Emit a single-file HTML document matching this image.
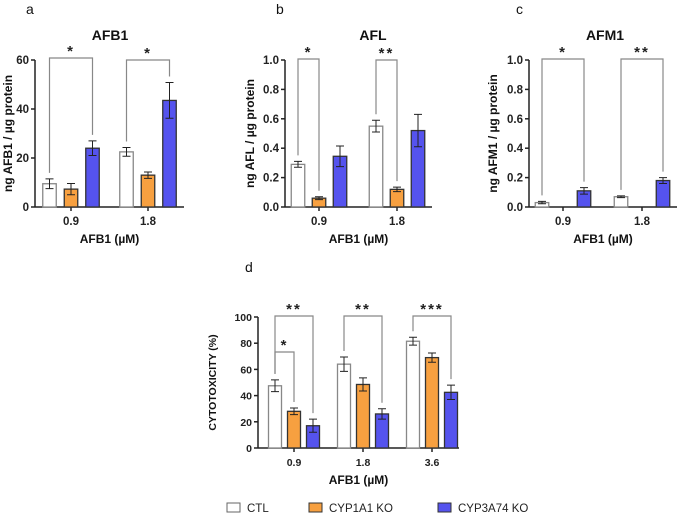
<!DOCTYPE html>
<html><head><meta charset="utf-8"><style>
body{margin:0;background:#fff}
svg{display:block;font-family:"Liberation Sans",Arial,sans-serif}
</style></head><body>
<svg id="fig" width="677" height="527" viewBox="0 0 677 527"></svg>
<script>
const NS="http://www.w3.org/2000/svg";
const svg=document.getElementById('fig');
const COL={ctl:'#ffffff',o:'#f7a040',b:'#5553ee'};
// Panel a data
const aCats=['0.9','1.8'];
const aCtl=[9.5,22.5], aCtlErr=[2,1.8];
const aOr=[7.3,13], aOrErr=[2.3,1.3];
const aBl=[24,43.5], aBlErr=[3,7.3];
const aTicks=[0,20,40,60];
// Panel b data
const bCats=['0.9','1.8'];
const bCtl=[0.29,0.55], bCtlErr=[0.02,0.04];
const bOr=[0.06,0.12], bOrErr=[0.01,0.015];
const bBl=[0.345,0.52], bBlErr=[0.07,0.11];
const bTicks=[0,0.2,0.4,0.6,0.8,1.0];
// Panel c data
const cCats=['0.9','1.8'];
const cCtl=[0.03,0.07], cCtlErr=[0.008,0.006];
const cBl=[0.11,0.18], cBlErr=[0.022,0.02];
const cTicks=[0,0.2,0.4,0.6,0.8,1.0];
// Panel d data
const dCats=['0.9','1.8','3.6'];
const dCtl=[47.5,64,81.5], dCtlErr=[4.5,5.5,3];
const dOr=[28,48.5,69], dOrErr=[2.5,5,3.5];
const dBl=[17,26,42.5], dBlErr=[5,4,5.5];
const dTicks=[0,20,40,60,80,100];

function el(tag,attrs,parent,text){const e=document.createElementNS(NS,tag);for(const k in attrs)e.setAttribute(k,attrs[k]);if(text!==undefined)e.textContent=text;(parent||svg).appendChild(e);return e;}

function panel(o){
  const g=el('g',{});
  
  
  const y=v=>o.y0-(v/o.max)*(o.y0-o.y1);
  const tfs=o.tfs||11.5;
  const ya=el('line',{x1:o.ax,y1:o.y1,x2:o.ax,y2:o.y0,stroke:'#222','stroke-width':1.5},g);
  
  const xa=el('line',{x1:o.ax,y1:o.y0,x2:o.axEnd,y2:o.y0,stroke:'#222','stroke-width':1.5},g);
  
  o.ticks.forEach(t=>{
    el('line',{x1:o.ax-4,y1:y(t),x2:o.ax,y2:y(t),stroke:'#222','stroke-width':1.5},g);
    const tl=el('text',{x:o.ax-6,y:y(t)+4,'text-anchor':'end','font-size':tfs,'font-weight':'bold',fill:'#222'},g,o.fmt(t));
    
  });
  o.cats.forEach((c,i)=>{
    const cx=o.cx0+i*o.step;
    el('line',{x1:cx,y1:o.y0,x2:cx,y2:o.y0+4,stroke:'#222','stroke-width':1.5},g);
    const tl=el('text',{x:cx,y:o.y0+18,'text-anchor':'middle','font-size':tfs,'font-weight':'bold',fill:'#222'},g,c);
    
    o.series.forEach((s,k)=>{
      if(!s)return;
      const bx=cx+(k-1)*o.gap-o.bw/2;
      const v=s.v[i],e=s.e[i];
      const r=el('rect',{x:bx,y:y(v),width:o.bw,height:o.y0-y(v),fill:s.c,stroke:s.c==='#ffffff'?'#888':'#333','stroke-width':1.3},g);
      
      const mx=bx+o.bw/2;
      el('path',{d:`M${mx},${y(v+e)}V${y(v-e)}M${mx-4},${y(v+e)}H${mx+4}M${mx-4},${y(v-e)}H${mx+4}`,stroke:'#222','stroke-width':1,fill:'none'},g);
    });
  });
  o.brackets.forEach(b=>{
    const cx=o.cx0+b.g*o.step;
    const x1=cx+(b.a-1)*o.gap, x2=cx+(b.b-1)*o.gap;
    const sa=o.series[b.a], sb=o.series[b.b];
    const ya1=y(sa.v[b.g]+sa.e[b.g])-6, yb1=y(sb.v[b.g]+sb.e[b.g])-6;
    const p=el('path',{d:`M${x1},${ya1}V${b.top}H${x2}V${yb1}`,stroke:'#888','stroke-width':1.2,fill:'none'},g);
    
    const st=el('text',{x:(x1+x2)/2,y:b.top-2,'text-anchor':'middle','font-size':15,'font-weight':'bold',fill:'#222','letter-spacing':2},g,b.s);
    
  });
  if(o.title){
  const t=el('text',{x:o.tx,y:o.ty,'text-anchor':'middle','font-size':14,'font-weight':'bold',fill:'#111'},g,o.title);
  }
  const xt=el('text',{x:(o.ax+o.axEnd)/2,y:o.y0+36,'text-anchor':'middle','font-size':12,'font-weight':'bold',fill:'#111'},g,'AFB1 (µM)');
  
  const ym=(o.y0+o.y1)/2;
  const yt=el('text',{x:o.ylx,y:ym,'text-anchor':'middle','font-size':o.ylfs||12,'font-weight':'bold',fill:'#111',transform:`rotate(-90 ${o.ylx} ${ym})`},g,o.ylabel);
  
  const lt=el('text',{x:o.lx,y:o.ly,'font-size':14,fill:'#111'},g,o.letter);
  
}
const f1=t=>String(t), f2=t=>t.toFixed(1);
panel({name:'panel-a',letter:'a',lx:26,ly:14,title:'AFB1',tx:110,ty:40,ylabel:'ng AFB1 / µg protein',ylx:12,
  ax:35,axEnd:184,y0:207,y1:60,max:60,ticks:aTicks,fmt:f1,cats:aCats,cx0:71,step:77,gap:21.5,bw:13.5,
  series:[{n:'ctl',c:COL.ctl,v:aCtl,e:aCtlErr},{n:'cyp1a1',c:COL.o,v:aOr,e:aOrErr},{n:'cyp3a74',c:COL.b,v:aBl,e:aBlErr}],
  brackets:[{g:0,a:0,b:2,top:58,s:'*'},{g:1,a:0,b:2,top:60,s:'*'}]});
panel({name:'panel-b',letter:'b',lx:276,ly:14,title:'AFL',tx:373,ty:40,ylabel:'ng AFL / µg protein',ylx:254,
  ax:285,axEnd:432,y0:207,y1:60,max:1,ticks:bTicks,fmt:f2,cats:bCats,cx0:319,step:78,gap:21,bw:13.5,
  series:[{n:'ctl',c:COL.ctl,v:bCtl,e:bCtlErr},{n:'cyp1a1',c:COL.o,v:bOr,e:bOrErr},{n:'cyp3a74',c:COL.b,v:bBl,e:bBlErr}],
  brackets:[{g:0,a:0,b:1,top:59,s:'*'},{g:1,a:0,b:1,top:60,s:'**'}]});
panel({name:'panel-c',letter:'c',lx:516,ly:14,title:'AFM1',tx:605,ty:40,ylabel:'ng AFM1 / µg protein',ylx:497,
  ax:529,axEnd:677,y0:207,y1:60,max:1,ticks:cTicks,fmt:f2,cats:cCats,cx0:563,step:79,gap:21,bw:13.5,
  series:[{n:'ctl',c:COL.ctl,v:cCtl,e:cCtlErr},null,{n:'cyp3a74',c:COL.b,v:cBl,e:cBlErr}],
  brackets:[{g:0,a:0,b:2,top:59,s:'*'},{g:1,a:0,b:2,top:59,s:'**'}]});
panel({name:'panel-d',letter:'d',lx:245,ly:272,title:'',tx:0,ty:0,ylabel:'CYTOTOXICITY (%)',ylx:216,ylfs:10.5,tfs:10.5,
  ax:258,axEnd:459,y0:448,y1:317,max:100,ticks:dTicks,fmt:f1,cats:dCats,cx0:294,step:69,gap:19,bw:13,
  series:[{n:'ctl',c:COL.ctl,v:dCtl,e:dCtlErr},{n:'cyp1a1',c:COL.o,v:dOr,e:dOrErr},{n:'cyp3a74',c:COL.b,v:dBl,e:dBlErr}],
  brackets:[{g:0,a:0,b:2,top:316,s:'**'},{g:0,a:0,b:1,top:352,s:'*'},{g:1,a:0,b:2,top:316,s:'**'},{g:2,a:0,b:2,top:316,s:'***'}]});
const leg=[['CTL',COL.ctl,227],['CYP1A1 KO',COL.o,309],['CYP3A74 KO',COL.b,438]];
leg.forEach(l=>{
  const g=el('g',{});
  
  
  el('rect',{x:l[2],y:503,width:13,height:9,fill:l[1],stroke:l[1]==='#ffffff'?'#666':'#333','stroke-width':1},g);
  el('text',{x:l[2]+20,y:512,'font-size':11.5,fill:'#222'},g,l[0]);
});
</script>
</body></html>
